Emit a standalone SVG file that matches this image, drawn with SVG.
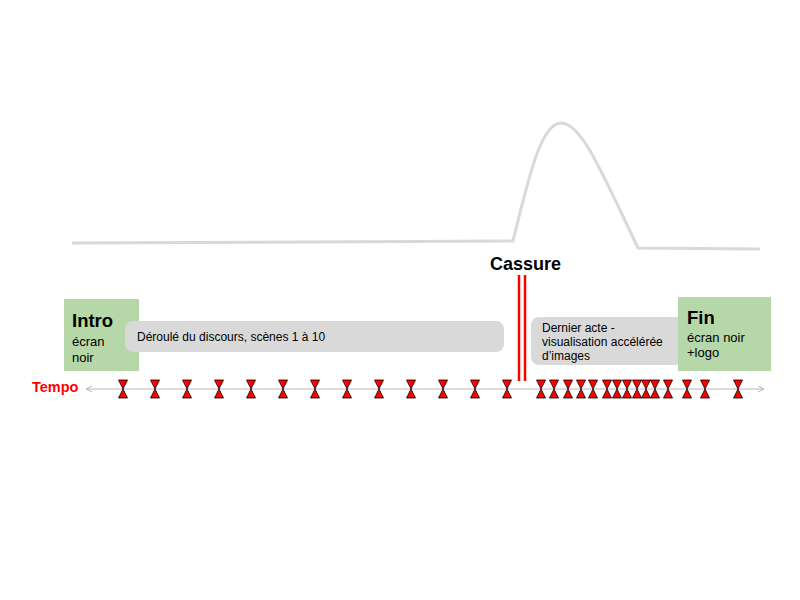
<svg xmlns="http://www.w3.org/2000/svg" width="800" height="600" viewBox="0 0 800 600">
<style>
.green{fill:#b6d7a8}
.grey{fill:#d9d9d9}
.t{font-family:"Liberation Sans",Arial,sans-serif;fill:#000}
.b{font-weight:bold}
.hg{fill:#ff0000;stroke:#000;stroke-width:0.8}
</style>
<defs>
<marker id="arr" markerWidth="8" markerHeight="8" refX="6" refY="3" orient="auto-start-reverse" markerUnits="userSpaceOnUse">
<path d="M0,0 L6,3 L0,6" fill="none" stroke="#b7b7b7" stroke-width="1"/>
</marker>
<g id="hg">
<polygon class="hg" points="-4.5,-9 4.5,-9 0,0"/>
<polygon class="hg" points="-4.5,9 4.5,9 0,0"/>
</g>
</defs>
<rect width="800" height="600" fill="#fff"/>
<g id="curve">
<path d="M72,243 L513,241 C527,185 540,123 561,123 C582,123 603,175 638,248 L760,249" fill="none" stroke="#d9d9d9" stroke-width="3"/>
</g>
<g id="connectors">
<line x1="86" y1="389" x2="764" y2="389" stroke="#b7b7b7" stroke-width="1" marker-start="url(#arr)" marker-end="url(#arr)"/>
</g>
<g id="tempo"><text class="t b" x="32" y="392" font-size="14.5" style="fill:#ff0000">Tempo</text></g>
<g id="intro">
<rect class="green" x="64" y="299" width="75" height="72"/>
<text class="t b" x="72" y="327" font-size="18.5">Intro</text>
<text class="t" x="72" y="346" font-size="13">écran</text>
<text class="t" x="72" y="362" font-size="13">noir</text>
</g>
<g id="deroule">
<rect class="grey" x="125" y="321" width="379" height="31" rx="8"/>
<text class="t" x="137" y="341" font-size="12">Déroulé du discours, scènes 1 à 10</text>
</g>
<g id="cassure">
<text class="t b" x="490" y="270" font-size="18">Cassure</text>
<line x1="519" y1="275" x2="519" y2="381" stroke="#ff0000" stroke-width="2.5"/>
<line x1="525" y1="275" x2="525" y2="381" stroke="#ff0000" stroke-width="2.5"/>
</g>
<g id="dernier">
<rect class="grey" x="531" y="317" width="158" height="48" rx="8"/>
<text class="t" x="542" y="332" font-size="12">Dernier acte -</text>
<text class="t" x="542" y="346" font-size="12">visualisation accélérée</text>
<text class="t" x="542" y="360" font-size="12">d’images</text>
</g>
<g id="fin">
<rect class="green" x="678" y="297" width="93" height="74"/>
<text class="t b" x="687" y="324" font-size="18.5">Fin</text>
<text class="t" x="687" y="342" font-size="13">écran noir</text>
<text class="t" x="687" y="357" font-size="13">+logo</text>
</g>
<g id="ticks">
<use href="#hg" x="123" y="389"/>
<use href="#hg" x="155" y="389"/>
<use href="#hg" x="187" y="389"/>
<use href="#hg" x="219" y="389"/>
<use href="#hg" x="251" y="389"/>
<use href="#hg" x="283" y="389"/>
<use href="#hg" x="315" y="389"/>
<use href="#hg" x="347" y="389"/>
<use href="#hg" x="379" y="389"/>
<use href="#hg" x="411" y="389"/>
<use href="#hg" x="443" y="389"/>
<use href="#hg" x="475" y="389"/>
<use href="#hg" x="507" y="389"/>
<use href="#hg" x="541" y="389"/>
<use href="#hg" x="554" y="389"/>
<use href="#hg" x="568" y="389"/>
<use href="#hg" x="581" y="389"/>
<use href="#hg" x="593" y="389"/>
<use href="#hg" x="607" y="389"/>
<use href="#hg" x="617" y="389"/>
<use href="#hg" x="627" y="389"/>
<use href="#hg" x="637" y="389"/>
<use href="#hg" x="646" y="389"/>
<use href="#hg" x="655" y="389"/>
<use href="#hg" x="668" y="389"/>
<use href="#hg" x="687" y="389"/>
<use href="#hg" x="705" y="389"/>
<use href="#hg" x="738" y="389"/>
</g>
</svg>
